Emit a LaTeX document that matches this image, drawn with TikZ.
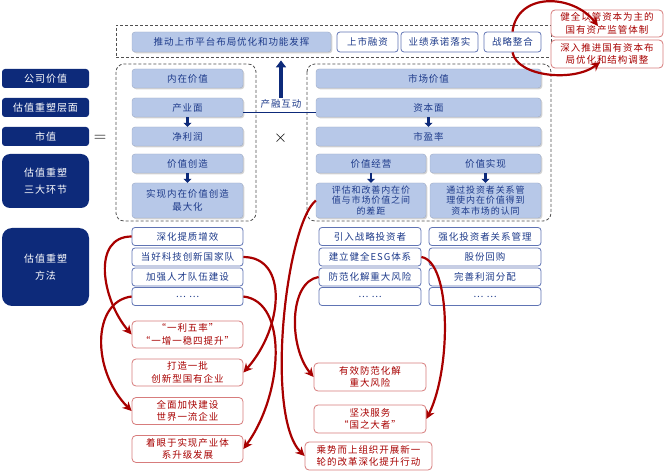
\documentclass[tikz,border=0pt]{standalone}
\usepackage{fontspec}
\setmainfont{Noto Sans CJK SC}[LetterSpace=10]
\usepackage{tikz}
\usetikzlibrary{arrows.meta,shadows}
\definecolor{navy}{HTML}{0D2A7A}
\definecolor{pale}{HTML}{B7C8E8}
\definecolor{ink}{HTML}{1D3A8A}
\definecolor{rim}{HTML}{6074B4}
\definecolor{accent}{HTML}{A80000}
\definecolor{blush}{HTML}{D77C7C}
\definecolor{muted}{HTML}{505050}

\begin{document}
\begin{tikzpicture}[x=1pt,y=-1pt,font=\fontsize{9.5}{12.5}\selectfont,
    tag/.style={fill=navy,text=white,rounded corners=3pt,minimum width=87pt,
      minimum height=19pt,inner sep=0pt,align=center,font=\fontsize{10}{17}\selectfont},
    pane/.style={fill=pale,draw=pale!85!black,line width=0.4pt,text=ink,rounded corners=3pt,
      inner sep=0pt,align=center,
      drop shadow={shadow xshift=1.3pt,shadow yshift=-1.3pt,opacity=0.35}},
    chip/.style={fill=white,draw=rim,line width=0.8pt,text=ink,rounded corners=3pt,
      inner sep=0pt,align=center},
    goal/.style={fill=white,draw=blush,line width=0.8pt,text=accent,rounded corners=4pt,
      inner sep=0pt,align=center},
    frame/.style={draw=muted,line width=0.8pt,dash pattern=on 3pt off 2pt},
    drop/.style={draw=navy,line width=2.6pt,-{Triangle[length=4pt,width=8pt]}},
    rise/.style={draw=navy,line width=3.2pt,-{Triangle[length=7pt,width=10pt]}},
    flow/.style={draw=accent,line width=2.2pt,-{Stealth[length=9pt,width=9pt]}}]
  \useasboundingbox (0,0) rectangle (665,476);

  \node[tag] (k1) at (45.5,78.5) {公司价值};
  \node[tag] (k2) at (45.5,107.5) {估值重塑层面};
  \node[tag] (k3) at (45.5,136.5) {市值};
  \node[tag,minimum height=54pt,rounded corners=8pt] (k4) at (45.5,181) {估值重塑\\三大环节};
  \node[tag,minimum height=78pt,rounded corners=10pt] (k5) at (45.5,267) {估值重塑\\方法};

  \node[frame,minimum width=435pt,minimum height=32pt] (topf) at (333.5,41) {};
  \draw[frame,rounded corners=8pt] (116,64) rectangle (256,221);
  \draw[frame,rounded corners=8pt] (307,64) rectangle (551,221);

  \node[pane,minimum width=199pt,minimum height=20pt] (g0) at (231.5,42) {推动上市平台布局优化和功能发挥};
  \foreach \n/\x/\w/\t in {g1/367.5/61/上市融资,g2/439.5/77/业绩承诺落实,g3/512.5/57/战略整合}
    \node[chip,minimum width=\w pt,minimum height=20pt] (\n) at (\x,42) {\t};

  \foreach \n/\y/\t in {p1/78.5/内在价值,p2/107.5/产业面,p3/136.5/净利润,p4/163.5/价值创造}
    \node[pane,minimum width=111pt,minimum height=19pt] (\n) at (187.5,\y) {\t};
  \node[pane,minimum width=111pt,minimum height=35pt] (p5) at (187.5,200.5) {实现内在价值创造\\最大化};

  \foreach \n/\y/\t in {c1/78.5/市场价值,c2/107.5/资本面,c3/136.5/市盈率}
    \node[pane,minimum width=225pt,minimum height=19pt] (\n) at (428.5,\y) {\t};
  \node[pane,minimum width=110pt,minimum height=19pt] (c4) at (371,163.5) {价值经营};
  \node[pane,minimum width=111pt,minimum height=19pt] (c5) at (485.5,163.5) {价值实现};
  \node[pane,minimum width=110pt,minimum height=35pt,font=\fontsize{9}{10.5}\selectfont] (c6)
    at (371,200.5) {评估和改善内在价\\值与市场价值之间\\的差距};
  \node[pane,minimum width=111pt,minimum height=35pt,font=\fontsize{9}{10.5}\selectfont] (c7)
    at (485.5,200.5) {通过投资者关系管\\理使内在价值得到\\资本市场的认同};

  \draw[drop] (p2.south) -- (p3.north);
  \draw[drop] (p4.south) -- (p5.north);
  \draw[drop] (c2.south) -- (c3.north);
  \draw[drop] (c4.south) -- (c6.north);
  \draw[drop] (c5.south) -- (c7.north);

  \draw[navy,line width=1pt] ([yshift=-5pt]p2.east) -- ([yshift=-5pt]c2.west);
  \node[text=ink,inner sep=1pt] (lk) at (281,103.5) {产融互动};
  \draw[rise] (lk.north) -- ([yshift=-3pt]lk.north |- topf.south);
  \node (eq) at (100,138) {\LARGE$=$};
  \node (tm) at (280.5,138) {\LARGE$\times$};

  \foreach \n/\y/\t in {m1/236.5/深化提质增效,m2/257/当好科技创新国家队,m3/277/加强人才队伍建设,m4/296.5/… …}
    \node[chip,minimum width=111pt,minimum height=18pt] (\n) at (187.5,\y) {\t};
  \foreach \n/\y/\t in {a1/236.5/引入战略投资者,a2/257/建立健全ESG体系,a3/277/防范化解重大风险,a4/296.5/… …}
    \node[chip,minimum width=102pt,minimum height=18pt] (\n) at (370,\y) {\t};
  \foreach \n/\y/\t in {b1/236.5/强化投资者关系管理,b2/257/股份回购,b3/277/完善利润分配,b4/296.5/… …}
    \node[chip,minimum width=112pt,minimum height=18pt] (\n) at (485,\y) {\t};

  \foreach \n/\y/\t in {r1/334.5/{“一利五率”\\“一增一稳四提升”},r2/372.5/{打造一批\\创新型国有企业},
      r3/411/{全面加快建设\\世界一流企业},r4/449/{着眼于实现产业体\\系升级发展}}
    \node[goal,minimum width=111pt,minimum height=27pt] (\n) at (187.5,\y) {\t};
  \node[goal,minimum width=112pt,minimum height=28pt] (r5) at (370,377) {有效防范化解\\重大风险};
  \node[goal,minimum width=112pt,minimum height=28pt] (r6) at (370,419) {坚决服务\\“国之大者”};
  \node[goal,minimum width=127pt,minimum height=28pt] (r7) at (368.5,456) {乘势而上组织开展新一\\轮的改革深化提升行动};
  \node[goal,minimum width=112pt,minimum height=27pt] (h1) at (607,23.5) {健全以管资本为主的\\国有资产监管体制};
  \node[goal,minimum width=112pt,minimum height=28pt] (h2) at (607,54) {深入推进国有资本布\\局优化和结构调整};

  \coordinate (tipA) at (598,26);
  \coordinate (tipB) at (600,62);
  \draw[flow] (g3.north) .. controls +(5,-40) and +(-25,-32) .. (tipA);
  \draw[flow] (g3.south) .. controls +(5,25) and +(-25,20) .. (tipB);
  \draw[flow] (m1.west) .. controls +(-40,0) and +(-30,-35) .. (r1.west);
  \draw[flow] (m4.west) .. controls +(-40,5) and +(-40,-40) .. (r3.west);
  \draw[flow] (m2.east) .. controls +(45,0) and +(40,-45) .. (r2.east);
  \draw[flow] (m4.east) .. controls +(45,5) and +(40,-55) .. (r4.east);
  \draw[flow] (c6.west) .. controls +(-30,25) and +(-40,-40) .. (r7.west);
  \draw[flow] (a3.west) .. controls +(-30,5) and +(-25,-30) .. (r5.west);
  \draw[flow] (a2.east) .. controls +(30,5) and +(25,-50) .. (r6.east);
\end{tikzpicture}
\end{document}
